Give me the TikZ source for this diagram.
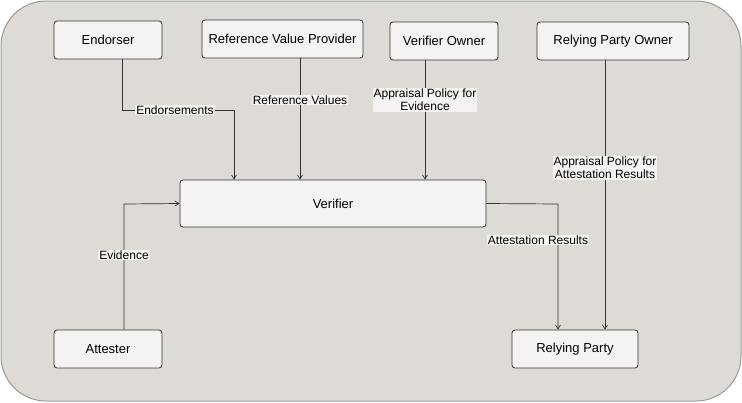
\documentclass[tikz,border=0pt]{standalone}
\usepackage{fontspec}
\setmainfont{Liberation Sans}
\usetikzlibrary{arrows.meta}
\definecolor{bg}{HTML}{DEDBD6}
\definecolor{box}{HTML}{F4F3F1}
\definecolor{edge}{HTML}{333333}
\begin{document}
\begin{tikzpicture}[x=1pt,y=-1pt,
  bx/.style={draw=edge,fill=box,rounded corners=3pt,line width=0.8pt,font=\fontsize{13}{15}\selectfont,inner sep=0pt},
  lb/.style={fill=box,inner sep=1pt,font=\fontsize{12}{13}\selectfont,align=center},
  ar/.style={draw=edge,line width=0.7pt,-{Straight Barb[length=4pt,width=5pt]}}]
\useasboundingbox (0,0) rectangle (742,402);
\draw[fill=bg,draw=gray!80,line width=1pt,rounded corners=45pt] (1,1) rectangle (741,401);
\node[bx,minimum width=108pt,minimum height=38pt] (end) at (108,40) {Endorser};
\node[bx,minimum width=161pt,minimum height=38pt] (rvp) at (282.5,39) {Reference Value Provider};
\node[bx,minimum width=108pt,minimum height=38pt] (vo) at (444,41) {Verifier Owner};
\node[bx,minimum width=152pt,minimum height=38pt] (rpo) at (613,41) {Relying Party Owner};
\node[bx,minimum width=306pt,minimum height=47pt] (ver) at (333,203.5) {Verifier};
\node[bx,minimum width=108pt,minimum height=38pt] (att) at (108,349) {Attester};
\node[bx,minimum width=126pt,minimum height=38pt] (rp) at (575,349) {Relying Party};
\coordinate (c1) at (122,110);
\coordinate (c2) at (234,110);
\coordinate (c3) at (124,204);
\coordinate (c4) at (558,204);
\draw[ar] (end.south -| c1) -- (c1) -- (c2) -- (ver.north -| c2);
\node[lb] at (175,110) {Endorsements};
\draw[ar] (rvp.south -| 300,0) -- (ver.north -| 300,0);
\node[lb] at (300,100) {Reference Values};
\draw[ar] (vo.south -| 425,0) -- (ver.north -| 425,0);
\node[lb] at (425,100) {Appraisal Policy for\\Evidence};
\draw[ar] (rpo.south -| 605,0) -- (rp.north -| 605,0);
\node[lb] at (605,168) {Appraisal Policy for\\Attestation Results};
\draw[ar] (att.north -| c3) -- (c3) -- (ver.west);
\node[lb] at (124,255) {Evidence};
\draw[ar] (ver.east) -- (c4) -- (rp.north -| c4);
\node[lb] at (538,240) {Attestation Results};
\end{tikzpicture}
\end{document}
